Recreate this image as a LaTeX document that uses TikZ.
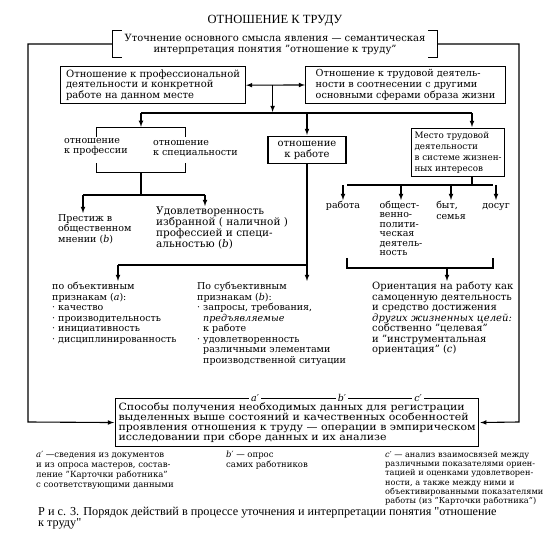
\documentclass[tikz,border=0pt]{standalone}
\usepackage{fontspec}
\setmainfont{DejaVu Serif}
\newfontfamily\capfont{Liberation Serif}
\newfontfamily\widefont{DejaVu Serif}[FakeStretch=1.1]
\usepackage{xcolor}
\usepackage{tikz}
\usetikzlibrary{positioning}

\tikzset{
    box/.style={draw, line width=1.1pt, inner sep=3pt, align=left, anchor=north west, font=\fontsize{10}{10.8}\selectfont},
    txt/.style={inner sep=0pt, align=left, anchor=north west, font=\fontsize{9.5}{10.5}\selectfont, execute at begin node=\strut},
    note/.style={txt, font=\fontsize{8.2}{9.3}\selectfont},
    tag/.style={fill=white, inner sep=2pt, font=\fontsize{9.5}{9.5}\selectfont\itshape},
    arr/.style={-latex, line width=1.1pt, shorten >=1pt},
    ln/.style={line width=1.1pt}
}

\begin{document}
\begin{tikzpicture}[x=1pt, y=-1pt]
    \useasboundingbox (0,0) rectangle (550,534);

    \coordinate (LB) at (28,422);
    \coordinate (RB) at (519,422);
    \coordinate (BUS1) at (141,113);
    \coordinate (BUS2) at (307,113);
    \coordinate (BUS3) at (472,113);
    \coordinate (F1) at (83,195);
    \coordinate (F2) at (205,195);
    \coordinate (W1) at (118,265);
    \coordinate (W2) at (307,265);
    \coordinate (S0) at (472,185);
    \coordinate (S1) at (347,185);
    \coordinate (S4) at (493,185);
    \coordinate (T1) at (347,268);
    \coordinate (T2) at (493,268);
    \coordinate (TM) at (447,268);

    \node [inner sep=0pt, align=center, minimum width=324, minimum height=26, font=\fontsize{10}{11}\selectfont] (sense) at (275,44) {Уточнение основного смысла явления — семантическая\\интерпретация понятия "отношение к труду"};
    \node [inner sep=0pt, font=\capfont\fontsize{12.5}{12.5}\selectfont, above=4pt of sense] (title) {ОТНОШЕНИЕ К ТРУДУ};

    \node [box, minimum width=185] (prof) at (60,66) {Отношение к профессиональной\\деятельности и конкретной\\работе на данном месте};
    \node [box, minimum width=200, font=\fontsize{9.7}{10.8}\selectfont] (life) at (305,66) {Отношение к трудовой деятель-\\ности в соотнесении с другими\\основными сферами образа жизни};

    \node [inner sep=0pt, minimum width=88, minimum height=44] (grp) at (141,150) {};
    \node [txt] (prof2) at (64,138) {отношение\\к профессии};
    \node [txt] (spec) at (153,140) {отношение\\к специальности};

    \node [box, anchor=center, align=center, minimum width=78, minimum height=27] (work) at (307,150) {отношение\\к работе};
    \node [box, minimum width=90, minimum height=48, font=\fontsize{8.8}{10.8}\selectfont] (place) at (411,128) {Место трудовой\\деятельности\\в системе жизнен-\\ных интересов};

    \node [txt] (prest) at (58,214) {Престиж в\\общественном\\мнении (\textit{b})};
    \node [txt, font=\fontsize{10.5}{11}\selectfont] (satis) at (156,207) {Удовлетворенность\\избранной ( наличной )\\профессией и специ-\\альностью (\textit{b})};

    \node [txt, anchor=north] (s1) at (343,201) {работа};
    \node [txt, anchor=north, font=\fontsize{9.5}{9.4}\selectfont] (s2) at (401,201) {общест-\\венно-\\полити-\\ческая\\деятель-\\ность};
    \node [txt, anchor=north] (s3) at (451,201) {быт,\\семья};
    \node [txt, anchor=north] (s4) at (496,201) {досуг};

    \node [txt] (obj) at (52,282) {по объективным\\признакам (\textit{a}):\\· качество\\· производительность\\· инициативность\\· дисциплинированность};
    \node [txt] (subj) at (197,282) {По субъективным\\признакам (\textit{b}):\\· запросы, требования,\\\phantom{· }\textit{предъявляемые}\\\phantom{· }к работе\\· удовлетворенность\\\phantom{· }различными элементами\\\phantom{· }производственной ситуации};
    \node [txt, font=\fontsize{10}{10.5}\selectfont] (orient) at (372,282) {Ориентация на работу как\\самоценную деятельность\\и средство достижения\\\textit{других жизненных целей:}\\собственно "целевая"\\и "инструментальная\\ориентация" (\textit{c})};

    \node [box, minimum width=355, minimum height=48, font=\widefont\fontsize{10}{10}\selectfont] (ways) at (115,398) {Способы получения необходимых данных для регистрации\\выделенных выше состояний и качественных особенностей\\проявления отношения к труду — операции в эмпирическом\\исследовании при сборе данных и их анализе};
    \node [tag] (la) at (255,398) {a′};
    \node [tag] (lb) at (342,398) {b′};
    \node [tag] (lc) at (418,398) {c′};

    \node [note, font=\fontsize{8.5}{10}\selectfont] (na) at (36,451) {\textit{a}′ —сведения из документов\\и из опроса мастеров, состав-\\ление "Карточки работника"\\с соответствующими данными};
    \node [note, font=\fontsize{8.5}{10}\selectfont] (nb) at (226,451) {\textit{b}′ — опрос\\самих работников};
    \node [note] (nc) at (385,451) {\textit{c}′ — анализ взаимосвязей между\\различными показателями ориен-\\тацией и оценками удовлетворен-\\ности, а также между ними и\\объективированными показателями\\работы (из "Карточки работника")};

    \node [txt, font=\capfont\fontsize{12.2}{11}\selectfont] (caption) at (38,507) {Р и с. 3. Порядок действий в процессе уточнения и интерпретации понятия "отношение\\к труду"};

    \draw [ln] (sense.north west) ++(9,0) -| (sense.south west) -- ++(9,0);
    \draw [ln] (sense.north east) ++(-9,0) -| (sense.south east) -- ++(-9,0);
    \draw [arr] (sense.west) -| (LB) -- (ways.west);
    \draw [arr] (sense.east) -| (RB) -- (ways.east);

    \draw [ln, latex-latex] (prof.east) -- (life.west) coordinate[pos=0.45] (M1);
    \draw [arr] (M1) -- (M1 |- BUS1);
    \draw [ln] (BUS1) -- (BUS3);
    \draw [arr] (BUS1) -- (grp.north);
    \draw [arr] (BUS2) -- (work.north);
    \draw [arr] (BUS3) -- (place.north -| BUS3);

    \draw [ln] (grp.north west) ++(0,9) |- (grp.north east) -- ++(0,9);
    \draw [ln] (grp.south west) ++(0,-9) |- (grp.south east) -- ++(0,-9);
    \draw [ln] (grp.south) -- (grp.south |- F1);
    \draw [ln] (F1) -- (F2);
    \draw [arr] (F1) -- (F1 |- prest.north);
    \draw [arr] (F2) -- (F2 |- satis.north);

    \draw [arr] (work.south) -- (work.south |- subj.north);
    \draw [ln] (W2) -- (W1);
    \draw [arr] (W1) -- (W1 |- obj.north);

    \draw [ln] (place.south -| S0) -- (S0);
    \draw [ln] (S1) -- (S4);
    \draw [arr] (s1.north |- S1) -- (s1.north);
    \draw [arr] (s2.north |- S1) -- (s2.north);
    \draw [arr] (s3.north |- S1) -- (s3.north);
    \draw [arr] (s4.north |- S1) -- (s4.north);
    \draw [ln] (T1) ++(0,-10) -- (T1) -- (T2) -- ++(0,-10);
    \draw [arr] (TM) -- (TM |- orient.north);
\end{tikzpicture}
\end{document}
